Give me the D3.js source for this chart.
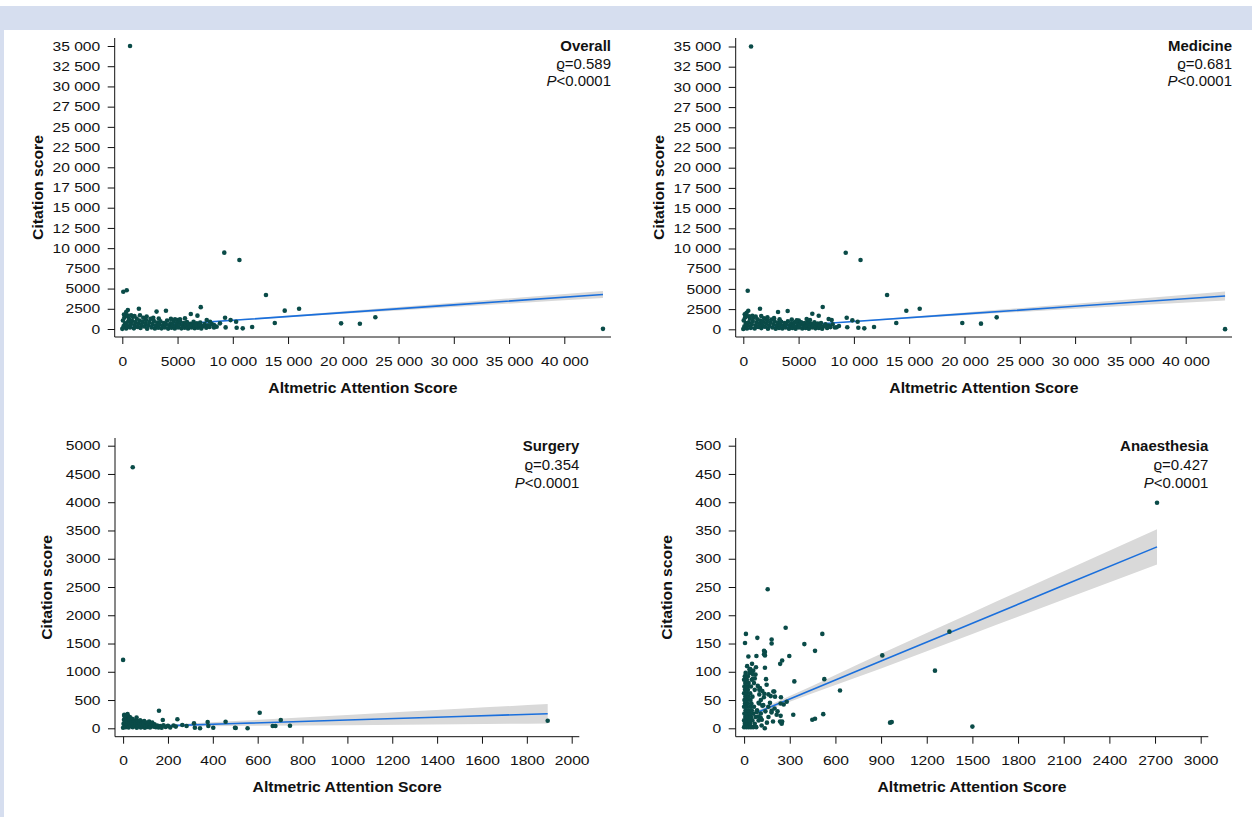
<!DOCTYPE html>
<html>
<head>
<meta charset="utf-8">
<script src="https://cdn.jsdelivr.net/npm/d3@7"></script>
<style>
  body { margin: 0; background: #fff; }
  svg { display: block; font-family: "Liberation Sans", Arial, sans-serif; }
</style>
</head>
<body>
<div id="chart"></div>
<script>
// ---- data ----
const panelNames = ["Overall", "Medicine", "Surgery", "Anaesthesia"];
const rhoValues = ["0.589", "0.681", "0.354", "0.427"];
const pValues = ["<0.0001", "<0.0001", "<0.0001", "<0.0001"];

const bigXTicks = [0, 5000, 10000, 15000, 20000, 25000, 30000, 35000, 40000];
const bigYTicks = [0, 2500, 5000, 7500, 10000, 12500, 15000, 17500, 20000, 22500, 25000, 27500, 30000, 32500, 35000];
const surgXTicks = [0, 200, 400, 600, 800, 1000, 1200, 1400, 1600, 1800, 2000];
const surgYTicks = [0, 500, 1000, 1500, 2000, 2500, 3000, 3500, 4000, 4500, 5000];
const anaesXTicks = [0, 300, 600, 900, 1200, 1500, 1800, 2100, 2400, 2700, 3000];
const anaesYTicks = [0, 50, 100, 150, 200, 250, 300, 350, 400, 450, 500];

// [altmetric, citations]
const overallCloud = [
  [0,20],[120,350],[260,700],[60,1050],[180,1400],[350,60],[420,450],[520,900],[600,1250],[700,200],
  [780,600],[880,1000],[950,1500],[1050,80],[1120,480],[1200,850],[1300,1300],[1380,250],[1450,650],[1550,1050],
  [1650,120],[1720,500],[1800,900],[1900,1400],[1980,300],[2080,700],[2150,1100],[2250,40],[2350,450],[2450,850],
  [2550,1250],[2650,200],[2750,600],[2850,1000],[2950,60],[3050,400],[3150,800],[3250,150],[3350,550],[3450,950],
  [3550,80],[3650,420],[3750,750],[3850,200],[3950,600],[4050,1050],[4150,50],[4250,380],[4350,720],[4450,150],
  [4550,500],[4650,900],[4750,60],[4850,350],[4950,700],[5050,200],[5150,550],[5250,900],[5350,80],[5450,400],
  [5550,750],[5650,150],[5750,480],[5850,850],[5950,60],[6050,350],[6150,650],[6250,200],[6350,500],[6450,900],
  [6550,100],[6650,400],[6750,700],[6850,150],[6950,450],[7050,800],[7150,60],[7300,350],[7450,600],[7600,150],
  [7750,450],[7900,250],[8100,600],[8300,200],
  [300,1600],[150,1800],[500,1650],[800,1700],[1100,1600],[1600,1700],[2200,1550],[2800,1400],[3300,1300],[4400,1250],[5000,1100]
];
const overallOutliers = [
  [700,35000],[90,4600],[400,4800],[9230,9440],[10600,8530],[13000,4200],[14700,2270],[16000,2500],[13800,750],
  [19800,700],[21500,650],[22900,1450],[43500,20],[7100,2700],[3950,2250],[3100,2150],[1500,2500],[500,2350],
  [350,2100],[6200,1850],[6800,1650],[5670,1320],[5220,1200],[9300,1400],[9800,1100],[10300,900],[10350,150],
  [10900,80],[11750,250],[9350,200],[8540,290],[8300,500],[7640,1110],[7940,900],[8840,700],[7030,600],
  [6580,500],[6120,400],[4770,1200]
];
const medicineCloud = [
  [0,40],[100,380],[230,760],[40,1100],[160,1450],[330,90],[410,500],[500,880],[590,1300],[680,180],
  [770,620],[860,1020],[940,1450],[1030,100],[1110,450],[1190,820],[1280,1250],[1360,280],[1440,680],[1530,1080],
  [1630,150],[1700,530],[1780,930],[1880,1350],[1960,320],[2060,720],[2140,1130],[2230,60],[2330,470],[2430,880],
  [2530,1200],[2630,220],[2730,620],[2830,980],[2930,80],[3030,420],[3130,820],[3230,170],[3330,570],[3430,930],
  [3530,100],[3630,440],[3730,770],[3830,220],[3930,620],[4030,1000],[4130,70],[4230,400],[4330,740],[4430,170],
  [4530,520],[4630,880],[4730,80],[4830,370],[4930,720],[5030,220],[5130,570],[5230,880],[5330,100],[5430,420],
  [5530,770],[5630,170],[5730,500],[5830,830],[5930,80],[6030,370],[6130,670],[6230,220],[6330,520],[6430,880],
  [6530,120],[6630,420],[6730,720],[6830,170],[6930,470],[7030,780],[7130,80],[7280,370],[7430,620],[7580,170],
  [7730,470],[7880,270],[8080,620],[8280,220],
  [280,1650],[130,1850],[520,1600],[820,1680],[1120,1580],[1620,1650],[2180,1500],[2780,1380],[3280,1250],[4380,1200],[5020,1080]
];
const medicineOutliers = [
  [700,35000],[400,4780],[9260,9470],[10600,8570],[13000,4240],[14740,2300],[15950,2550],[13830,780],[19800,780],
  [21490,700],[22910,1480],[43560,20],[7180,2760],[4010,2260],[3140,2140],[1510,2550],[450,2300],[300,2050],
  [6240,1930],[6820,1680],[9350,1430],[9860,1110],[10340,940],[10400,200],[10940,120],[11820,280],[9400,250],
  [8650,410],[8440,250],[7720,1270],[7990,1150],[5730,1270],[6030,1150],[4830,1110]
];
const surgeryCloud = [
  [0,10],[2,80],[4,150],[6,40],[8,110],[10,190],[12,20],[14,90],[16,160],[18,50],[20,120],[22,210],[25,15],
  [28,85],[31,140],[34,45],[37,105],[40,170],[43,20],[46,75],[49,130],[52,40],[55,100],[58,150],[61,10],
  [64,70],[67,125],[70,35],[73,95],[76,140],[79,15],[82,65],[85,115],[88,30],[91,85],[94,130],[97,10],
  [100,55],[104,100],[108,25],[112,75],[116,120],[120,15],[125,60],[130,100],[135,30],[140,70],[146,20],
  [152,50],[158,15],[165,40],[172,10],[180,55],[190,25],[200,45],[210,15],[225,50],[235,30],
  [5,240],[20,250],[12,220],[30,200],[60,190]
];
const surgeryOutliers = [
  [43,4620],[0,1210],[160,310],[242,159],[177,147],[16,235],[5,220],[264,58],[283,41],[316,88],[343,0],
  [320,10],[377,111],[402,11],[457,117],[499,10],[380,40],[502,5],[555,0],[609,276],[667,41],[679,41],
  [703,147],[744,46],[1893,134]
];
const anaesCloud = [
  [0,2],[15,2],[30,2],[45,2],[60,2],[80,2],[5,8],[22,8],[40,8],[70,8],[0,14],[18,14],[35,14],[55,14],[95,14],
  [8,20],[25,20],[45,20],[75,20],[2,26],[20,26],[38,26],[60,26],[110,26],[10,32],[28,32],[50,32],[85,32],
  [0,38],[18,38],[40,38],[65,38],[6,44],[25,44],[48,44],[100,44],[2,50],[20,50],[42,50],[8,56],[30,56],[55,56],
  [0,62],[18,62],[40,62],[6,68],[25,68],[70,68],[2,74],[20,74],[45,74],[8,80],[30,80],[0,86],[18,86],[50,86],
  [5,92],[25,92],[10,98],[35,98],
  [120,40],[140,30],[160,20],[180,28],[100,60],[90,75],[130,55],[170,45],[200,35],[150,10],[115,5],[60,102],
  [40,105],[20,110],[70,88],[110,18],[190,12],[220,30],[240,22],[260,42],
  [137,135],[137,129],[52,114],[78,108],[148,77],[104,71],[120,66],[133,61],[175,57],[198,65],[242,55],[126,41],
  [159,38],[181,31],[214,24],[236,12],[247,8],[83,29],[93,21],[116,15],[110,50],[95,45],[160,60],[65,80],
  [75,95],[58,88],[48,100],[35,104]
];
const anaesOutliers = [
  [155,246],[12,167],[6,151],[87,160],[273,178],[514,167],[181,157],[181,150],[396,149],[466,137],[131,137],
  [131,131],[28,127],[81,128],[297,128],[250,120],[237,114],[908,129],[137,107],[330,83],[527,87],[630,67],
  [192,65],[100,68],[144,87],[56,96],[203,56],[240,44],[280,47],[323,24],[520,25],[448,15],[466,17],[245,10],
  [250,12],[136,0],[959,10],[970,11],[1254,102],[1500,3],[2713,399],[1349,171]
];

// regression fit with 95% band: [x, lower, fit, upper]
const overallFit = [[0,65,120,175],[5000,558,598,638],[10000,1015,1075,1135],[20000,1880,2030,2180],[30000,2725,2985,3245],[43500,3844,4274,4704]];
const medicineFit = [[0,-30,30,90],[5000,455,500,545],[10000,900,970,1040],[20000,1740,1910,2080],[30000,2540,2850,3160],[43560,3565,4125,4685]];
const surgeryFit = [[0,13,21,29],[250,30,52,74],[500,40,84,128],[1000,56,146,236],[1500,73,209,345],[1893,86,258,430]];
const anaesFit = [[0,15.5,18.5,21.5],[300,47,52,57],[600,76.5,85.5,94.5],[900,106,119,132],[1500,167,186,205],[2100,228,253,278],[2713,290,321,352]];

// ---- layout ----
const W = 1252, H = 817;
const fmt = v => v >= 10000 ? d3.format(",")(v).replace(/,/g, " ") : String(v);
// the reference type is set wide; stretch glyphs horizontally to match
const tickStretch = 1.2, titleStretch = 1.05, noteStretch = 1.07;

const panels = [
  { pts: overallCloud.concat(overallOutliers), fit: overallFit, xTicks: bigXTicks, yTicks: bigYTicks,
    xMap: [[0, 40000], [122.3, 564.3]], yMap: [[0, 35000], [329, 46]],
    box: { l: 114.7, r: 611, t: 38, b: 337 }, yTitleX: 43, textTop: 51.5, lineGap: 17.5 },
  { pts: medicineCloud.concat(medicineOutliers), fit: medicineFit, xTicks: bigXTicks, yTicks: bigYTicks,
    xMap: [[0, 40000], [743.3, 1185.7]], yMap: [[0, 35000], [329.3, 46.5]],
    box: { l: 735.7, r: 1232, t: 38, b: 337 }, yTitleX: 664, textTop: 51.5, lineGap: 17.5 },
  { pts: surgeryCloud.concat(surgeryOutliers), fit: surgeryFit, xTicks: surgXTicks, yTicks: surgYTicks,
    xMap: [[0, 2000], [123.1, 571.7]], yMap: [[0, 5000], [728.3, 445.7]],
    box: { l: 115, r: 579.3, t: 438, b: 736.7 }, yTitleX: 51.5, textTop: 451.5, lineGap: 18.5 },
  { pts: anaesCloud.concat(anaesOutliers), fit: anaesFit, xTicks: anaesXTicks, yTicks: anaesYTicks,
    xMap: [[0, 3000], [744.1, 1200.7]], yMap: [[0, 500], [728.3, 445.7]],
    box: { l: 735.7, r: 1208.3, t: 438, b: 736.7 }, yTitleX: 672, textTop: 451.5, lineGap: 18.5 }
];

const svg = d3.select("#chart").append("svg")
    .attr("width", W)
    .attr("height", H);

// page frame: light blue header strip and left edge
svg.append("rect").attr("x", 0).attr("y", 6).attr("width", W).attr("height", 24).attr("fill", "#d6deef");
svg.append("rect").attr("x", 0).attr("y", 6).attr("width", 4).attr("height", H - 6).attr("fill", "#d6deef");

panels.forEach((p, i) => {
    const x = d3.scaleLinear().domain(p.xMap[0]).range(p.xMap[1]);
    const y = d3.scaleLinear().domain(p.yMap[0]).range(p.yMap[1]);
    const g = svg.append("g");
    const b = p.box;

    // confidence band + fit line
    g.append("path")
        .datum(p.fit)
        .attr("fill", "#d9d9d9")
        .attr("d", d3.area().curve(d3.curveMonotoneX)
            .x(d => x(d[0])).y0(d => y(d[1])).y1(d => y(d[3])));
    g.append("path")
        .datum(p.fit)
        .attr("fill", "none")
        .attr("stroke", "#1a6fdc")
        .attr("stroke-width", 1.6)
        .attr("d", d3.line().x(d => x(d[0])).y(d => y(d[2])));

    // points
    g.append("g")
      .selectAll("circle")
        .data(p.pts)
        .enter().append("circle")
        .attr("cx", d => x(d[0]))
        .attr("cy", d => y(d[1]))
        .attr("r", 2.3)
        .attr("fill", "#0a4b48");

    // axes
    const gx = g.append("g")
        .attr("transform", `translate(0,${b.b})`)
        .call(d3.axisBottom(x).tickValues(p.xTicks).tickFormat(fmt).tickSize(7));
    gx.select(".domain").remove();
    gx.selectAll("text").attr("y", 28.7).attr("dy", null);

    const gy = g.append("g")
        .attr("transform", `translate(${b.l},0)`)
        .call(d3.axisLeft(y).tickValues(p.yTicks).tickFormat(fmt).tickSize(7));
    gy.select(".domain").remove();
    gy.selectAll("text").attr("x", -14.5 / tickStretch);

    [gx, gy].forEach(a => {
        a.selectAll("text")
            .attr("font-family", null)
            .attr("font-size", 13)
            .attr("fill", "#111")
            .attr("transform", `scale(${tickStretch},1)`);
        a.selectAll("line").attr("stroke", "#111");
    });

    g.append("path")
        .attr("d", `M${b.l},${b.t}V${b.b}H${b.r}`)
        .attr("fill", "none")
        .attr("stroke", "#111")
        .attr("stroke-width", 1);

    // axis titles
    g.append("text")
        .attr("transform", `translate(${(b.l + b.r) / 2},${b.b + 55.5}) scale(${titleStretch},1)`)
        .attr("text-anchor", "middle")
        .attr("font-size", 15)
        .attr("font-weight", "bold")
        .attr("fill", "#111")
        .text("Altmetric Attention Score");
    g.append("text")
        .attr("transform", `translate(${p.yTitleX},${(b.t + b.b) / 2}) rotate(-90) scale(${titleStretch},1)`)
        .attr("text-anchor", "middle")
        .attr("font-size", 15)
        .attr("font-weight", "bold")
        .attr("fill", "#111")
        .text("Citation score");

    // panel label with statistics
    const note = g.append("g")
        .attr("transform", `translate(${b.r},0) scale(${noteStretch},1)`)
        .attr("text-anchor", "end")
        .attr("fill", "#111")
        .attr("font-size", 14);
    note.append("text")
        .attr("y", p.textTop)
        .attr("font-weight", "bold")
        .text(panelNames[i]);
    note.append("text")
        .attr("y", p.textTop + p.lineGap)
        .text(`\u03F1=${rhoValues[i]}`);
    const pt = note.append("text")
        .attr("y", p.textTop + 2 * p.lineGap);
    pt.append("tspan").attr("font-style", "italic").text("P");
    pt.append("tspan").text(pValues[i]);
});
</script>
</body>
</html>
